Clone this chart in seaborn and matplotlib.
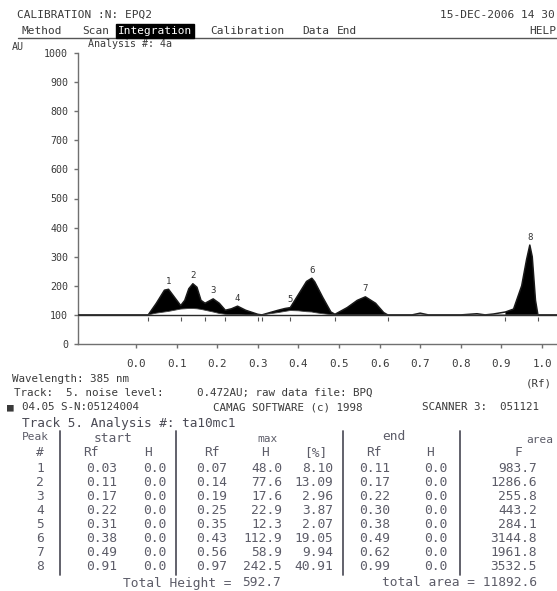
import matplotlib
matplotlib.use("Agg")
import matplotlib.pyplot as plt
from matplotlib.lines import Line2D
import numpy as np
import seaborn as sns

# ---------------- data ----------------
peak_no = [1, 2, 3, 4, 5, 6, 7, 8]
start_rf = [0.03, 0.11, 0.17, 0.22, 0.31, 0.38, 0.49, 0.91]
start_h = [0.0, 0.0, 0.0, 0.0, 0.0, 0.0, 0.0, 0.0]
max_rf = [0.07, 0.14, 0.19, 0.25, 0.35, 0.43, 0.56, 0.97]
max_h = [48.0, 77.6, 17.6, 22.9, 12.3, 112.9, 58.9, 242.5]
max_pct = [8.10, 13.09, 2.96, 3.87, 2.07, 19.05, 9.94, 40.91]
end_rf = [0.11, 0.17, 0.22, 0.30, 0.38, 0.49, 0.62, 0.99]
end_h = [0.0, 0.0, 0.0, 0.0, 0.0, 0.0, 0.0, 0.0]
area_f = [983.7, 1286.6, 255.8, 443.2, 284.1, 3144.8, 1961.8, 3532.5]
total_height = 592.7
total_area = 11892.6

# densitogram trace (Rf, AU) and integration baseline
trace_rf = [-0.143, 0.03, 0.05, 0.07, 0.08, 0.095, 0.11, 0.12, 0.13, 0.14, 0.15, 0.16,
            0.17, 0.19, 0.205, 0.22, 0.235, 0.25, 0.27, 0.30, 0.31, 0.33, 0.35, 0.367,
            0.38, 0.40, 0.42, 0.433, 0.44, 0.46, 0.48, 0.49, 0.52, 0.545, 0.565, 0.59,
            0.61, 0.62, 0.68, 0.70, 0.72, 0.80, 0.84, 0.86, 0.88, 0.91, 0.93, 0.95,
            0.962, 0.970, 0.976, 0.984, 0.99, 1.037]
trace_au = [100, 100, 140, 185, 188, 160, 132, 150, 190, 207, 195, 150,
            140, 155, 140, 116, 121, 130, 116, 102, 100, 108, 116, 122,
            125, 170, 215, 226, 214, 160, 110, 102, 125, 150, 162, 140,
            108, 100, 100, 106, 100, 100, 104, 100, 103, 110, 120, 200,
            290, 340, 300, 150, 100, 100]
base_au = [100, 100, 106, 110, 112, 116, 120, 121, 122, 122, 121, 119,
           116, 110, 105, 102, 101, 101, 100, 100, 100, 104, 108, 112,
           115, 114, 111, 110, 108, 104, 101, 100, 100, 100, 100, 100,
           100, 100, 100, 100, 100, 100, 100, 100, 100, 100, 100, 100,
           100, 100, 100, 100, 100, 100]

y_ticks = [0, 100, 200, 300, 400, 500, 600, 700, 800, 900, 1000]
x_ticks = [0.0, 0.1, 0.2, 0.3, 0.4, 0.5, 0.6, 0.7, 0.8, 0.9, 1.0]

# ---------------- style ----------------
sns.set_style("ticks")
MONO = "DejaVu Sans Mono"
plt.rcParams["font.family"] = [MONO, "DejaVu Sans"]

W, H = 557, 591
fig = plt.figure(figsize=(W / 100, H / 100), dpi=100)
fig.patch.set_facecolor("white")

DARK = "#3a3a3a"
TAB = "#5c5c68"
AXC = "#707070"


def fx(x):
    return x / W


def fy(y):
    return 1 - y / H


def t(x, y, s, size=8, color=DARK, ha="left", **kw):
    fig.text(fx(x), fy(y), s, fontsize=size, color=color, ha=ha, va="center",
             family=[MONO, "DejaVu Sans"], **kw)


# ---------------- chart ----------------
ax = fig.add_axes([fx(78), fy(344), (W - 78) / W, (344 - 53) / H])
ax.set_xlim(-0.143, 1.037)
ax.set_ylim(0, 1000)

rf = np.array(trace_rf)
mask = np.zeros(len(rf), dtype=bool)
for s, e in zip(start_rf, end_rf):
    mask |= (rf >= s - 1e-9) & (rf <= e + 1e-9)

ax.axhline(100, color="#2a2a2a", lw=1.0, zorder=1)
ax.fill_between(trace_rf, base_au, trace_au, where=mask, color="black", lw=0, zorder=2)
sns.lineplot(x=trace_rf, y=trace_au, color="#1a1a1a", lw=1.1, ax=ax, zorder=3)
ax.plot(trace_rf, base_au, color="#444444", lw=0.6, zorder=3)

# peak numbers
tr = np.array(trace_au)
for n, s, e in zip(peak_no, start_rf, end_rf):
    sel = np.where((rf >= s) & (rf <= e))[0]
    i = sel[np.argmax(tr[sel])]
    ax.text(rf[i], tr[i] + 12, str(n), fontsize=6.5, color="#333333",
            ha="center", va="bottom")

# start / end markers below baseline
marks = sorted(set(start_rf) | set(end_rf))
ax.vlines(marks, 80, 93, color="#555555", lw=0.8)

for side in ["top", "right"]:
    ax.spines[side].set_visible(False)
for side in ["left", "bottom"]:
    ax.spines[side].set_color(AXC)
    ax.spines[side].set_linewidth(1.0)

ax.set_yticks(y_ticks)
ax.set_yticklabels([str(v) for v in y_ticks])
ax.set_xticks(x_ticks)
ax.set_xticklabels([f"{v:.1f}" for v in x_ticks])
ax.tick_params(axis="y", direction="out", length=3, width=1, color=AXC,
               labelcolor=DARK, labelsize=7.2, pad=4)
ax.tick_params(axis="x", direction="out", length=3, width=1, color=AXC,
               labelcolor=DARK, labelsize=7.8, pad=8)
ax.set_xlabel("")
ax.set_ylabel("")

# ---------------- header texts ----------------
t(17, 15, "CALIBRATION :N: EPQ2", size=8)
t(440, 15, "15-DEC-2006 14 30", size=8)
t(21, 31, "Method", size=8)
t(82, 31, "Scan", size=8)
t(118, 31, "Integration", size=8, color="white",
  bbox=dict(facecolor="black", edgecolor="black", pad=1.2))
t(210, 31, "Calibration", size=8)
t(302, 31, "Data", size=8)
t(337, 31, "End", size=8)
t(529, 31, "HELP", size=8)
fig.add_artist(Line2D([fx(18), 1.0], [fy(38), fy(38)], color="#555555", lw=1.0))
t(12, 47, "AU", size=7.2)
t(88, 44, "Analysis #: 4a", size=7.2)

# ---------------- info below chart ----------------
t(12, 379, "Wavelength: 385 nm", size=7.8)
t(526, 383, "(Rf)", size=7.8)
t(14, 393, "Track:  5. noise level:", size=7.8)
t(197, 393, "0.472AU; raw data file: BPQ", size=7.8)
t(7, 407, "\u25a0", size=8)
t(22, 407, "04.05 S-N:05124004", size=7.8)
t(213, 407, "CAMAG SOFTWARE (c) 1998", size=7.8)
t(422, 407, "SCANNER 3:  051121", size=7.8)

# ---------------- table ----------------
TS = 9.3
t(22, 423, "Track 5. Analysis #: ta10mc1", size=9.2, color="#4a4a55")
t(22, 437, "Peak", size=8, color=TAB)
t(113, 438, "start", size=TS, color=TAB, ha="center")
t(267, 439, "max", size=8, color=TAB, ha="center")
t(394, 437, "end", size=TS, color=TAB, ha="center")
t(526, 440, "area", size=8, color=TAB)
t(40, 453, "#", size=TS, color=TAB, ha="center")
t(91, 453, "Rf", size=TS, color=TAB, ha="center")
t(148, 453, "H", size=TS, color=TAB, ha="center")
t(212, 453, "Rf", size=TS, color=TAB, ha="center")
t(265, 453, "H", size=TS, color=TAB, ha="center")
t(316, 453, "[%]", size=TS, color=TAB, ha="center")
t(374, 453, "Rf", size=TS, color=TAB, ha="center")
t(430, 453, "H", size=TS, color=TAB, ha="center")
t(518, 453, "F", size=TS, color=TAB, ha="center")

for i in range(len(peak_no)):
    y = 469 + 14 * i
    t(40, y, str(peak_no[i]), size=TS, color=TAB, ha="center")
    t(117, y, f"{start_rf[i]:.2f}", size=TS, color=TAB, ha="right")
    t(166, y, f"{start_h[i]:.1f}", size=TS, color=TAB, ha="right")
    t(227, y, f"{max_rf[i]:.2f}", size=TS, color=TAB, ha="right")
    t(282, y, f"{max_h[i]:.1f}", size=TS, color=TAB, ha="right")
    t(333, y, f"{max_pct[i]:.2f}", size=TS, color=TAB, ha="right")
    t(390, y, f"{end_rf[i]:.2f}", size=TS, color=TAB, ha="right")
    t(447, y, f"{end_h[i]:.1f}", size=TS, color=TAB, ha="right")
    t(537, y, f"{area_f[i]:.1f}", size=TS, color=TAB, ha="right")

t(123, 583, "Total Height =", size=TS, color=TAB)
t(281, 583, f"{total_height:.1f}", size=TS, color=TAB, ha="right")
t(537, 583, f"total area = {total_area:.1f}", size=TS, color=TAB, ha="right")

for xv in [60, 176, 343, 460]:
    fig.add_artist(Line2D([fx(xv), fx(xv)], [fy(431), fy(575)], color="#555560", lw=1.3))

fig.savefig("out.png", dpi=100, facecolor="white")
